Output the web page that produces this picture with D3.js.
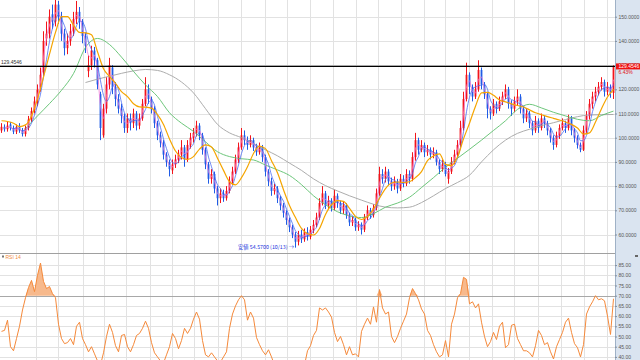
<!DOCTYPE html>
<html>
<head>
<meta charset="utf-8">
<script src="https://cdn.jsdelivr.net/npm/d3@7"></script>
<style>
  body { margin: 0; background: #fff; }
  svg { display: block; }
  text { font-family: "Liberation Sans", Arial, sans-serif; }
</style>
</head>
<body>
<div id="chart"></div>
<script>
// ---- data (one bar = approx. 3 trading days) ----
const opens = [
  103,104.5,103.5,105.5,104,102.5,104.5,103,101.5,104,
  107.5,111.5,114.5,121,127,141,143,151,148,155,
  150,143,137,140,144,149,152,148,142,127.5,
  130,136,132,118,101,112,122,129,121,116,
  112,109,104,108,106,110,105,108,114,120,
  116,112,106,101,98,93,90,86.5,89,91,
  93,96,91,97,100,102,105,101,95,89,
  83,85,79,75,77,75,78,82,86,91,
  96,101,99,97,99,96,94,96,92,86,
  82,78,79,75,72,69,66,63,60,57,
  60,58,61,59,62,64,67,73,77,72,
  74,71,76,73,70,72,68,65,66,63,
  64,62,67,70,68,71,77,85,83,86,
  82,80,82,79,83,81,85,83,92,99,
  95,97,94,95,93,94,90,87,89,83,
  86,90,93,97,104,116,126,121,117,120,
  128,122,118,112,110,114,112,115,117,120,
  114,112,115,117,112,108,110,106,103,107,
  104,108,106,103,100,97,101,104,106,104,
  108,103,100,97,95,103,109,114,117,119,
  121,123,119,121,118.5
];
const closes = [
  104.5,103.5,105,104,102.5,104.5,103,101.5,104,107.5,
  111,115,120,126,140,143,150,148,155,150,
  143,137,140,144,149,152,148,142,138,130,
  136,132,122,104,112,122,130,121,116,112,
  109,104,108,106,110,105,108,114,120,116,
  112,106,101,98,93,90,87,89,91,93,
  96,91,97,100,102,105,101,95,89,83,
  85,79,75,77,75,78,82,86,91,96,
  101,99,97,99,96,94,96,92,86,82,
  78,79,75,72,69,66,63,60,57,60,
  58,61,59,62,64,67,73,77,72,74,
  71,76,73,70,72,68,65,66,63,64,
  62,67,70,68,71,77,85,83,86,82,
  80,82,79,83,81,85,83,92,99,95,
  97,94,95,93,94,90,87,89,85,86,
  90,93,97,104,116,126,121,117,120,128,
  122,118,112,110,114,112,115,117,120,114,
  112,115,117,112,108,110,106,103,107,104,
  108,106,103,100,97,101,104,106,104,108,
  103,100,97,95,103,109,114,117,119,121,
  123,119,121,118.5,129.4546
];
const highs = [
  106,105.5,106.5,106.5,105,105.5,106,104,105,109,
  112.5,117,122,129,144,148,153,155,157,156.5,
  152,145,143,147,152,156.5,154,149,143.5,134,
  138,137.5,133,119,114,125,133,130,123,118,
  114,110,110,110,112,111,110,116,125,122,
  117,113,107,102.5,99,94,91,91,93,95,
  99,97,99,102,104,107,106,102,96,90,
  87,86,80,79,78.5,80,84,88,93,98,
  104,103,100.5,101,100,97.5,98,97,93,87,
  83.5,81,80,76,73,70,67,64,61,61.5,
  62,62.5,63,63.5,66,69,75,80,78,76,
  75,78.5,77,74,73.5,73,69,67.5,67,65.5,
  65,68.5,72,71,72.5,79,88,87,88,87,
  83.5,84,83,85,84.5,87,86.5,94,102,100,
  99,98,97,96,96,95,91,91,90,87.5,
  92,95,99,107,119,131,127,122,123,132,
  129,123,119,113,116,115,117,119,122,121,
  115.5,117,120,118,113,112,111,107,109,108,
  110,109,107,104,101,102.5,105.5,108,107,109.5,
  109,104,101,98,105,111,116,119,121,123,
  125,124,123,122,129.9
];
const lows = [
  102,102.5,102.5,103,101.5,101.5,102,100.5,100.5,103,
  106.5,110,113,119,125,138,141,145,146,147,
  140,134,134.5,138,142,147,145,139,135,125,
  128,129,120,99,100,110,120,118,113,110,
  106,102,102,103,104,103,103.5,107,113,114,
  110,104,99,96,91,88,84,85,87.5,89.5,
  91,88,90,95.5,98,100.5,99,93,87,81,
  81,77,72,73,73.5,74,77,80.5,85,89.5,
  95,97,95,96,94.5,92.5,93,90,84,80,
  76,76.5,73,70,67,64,61,58.5,54.57,55.5,
  56.5,57,57.5,58,60.5,63,66,72,70.5,70.5,
  69.5,70,71,68.5,68.5,66.5,63.5,63.5,61.5,61.5,
  60,61,66,66.5,67,70,76,81,81.5,80.5,
  78,78.5,77,78,79.5,80,81,82,90.5,93,
  94,92,92.5,91,91.5,88.5,85,86,84,81,
  85,89,92,96,103,115,118,115,116,119,
  120,116,108,107.5,109,110,111,113.5,116,112,
  109,110.5,113.5,110,106,106.5,104,101,102,102,
  103,104,101,98,95,96,99.5,103,102,103,
  101,98,95.5,94,94.5,102,107.5,112,115,117.5,
  119.5,117,117.5,116.5,116
];
const rsi14 = [
  52.5,53,58,45,43,49,55,63,69,74,
  77.5,72,80,86,77,73.5,74.5,71,69,56,
  49,46.5,47,49,46,55,57,49,46,42.5,
  45,41.5,38,36,42,50,56,52,45.5,42.5,
  50.5,51,45,42.5,46,50.5,51.5,54,57.5,54,
  47,42,40,38,37,41,45,51.5,49,44,
  48,54,51.5,54,58.5,62,58.5,48,41,40,
  42,40,38,37.5,40,42.5,54,61,65,68,
  70,68,58,62,59,49.5,46,43,41,43.5,
  40,36,34,31,28,26,25,22,27,29,
  32,36,43,45.5,50.5,53,64,63,64,62,
  59.5,52,47.5,50,46,41,45,41,41.5,40,
  52.5,56,59,56,64.5,57,73,64,61,62,
  50,47,50,54,57.5,61,69,73.5,71,68,
  63.5,61,53,50.5,46,42.5,40,41,48,40,
  56,61,69,71,79,78,66,67,64,66,
  57,50,45,47.5,52,48.5,55,57,44.5,46,
  55.5,56,49,46,43,43,42,40,45.5,53,
  50.5,46,47,42.5,39,45,48.5,52,57,59,
  52,46.5,44.5,40,46,61,64.5,67,70,68,
  68.5,67.5,60,51,68.5
];
// moving averages (every 2nd / 4th bar)
const orangeStart = 0, orangeStep = 2;
const orangeMA = [
  107,106.7,106,104.6,105.3,109,116,125,134.5,143.5,
  150,150,146.5,143.5,143.3,142.5,135.5,128.5,125.3,122.5,
  119,117,114,112.7,112.6,112.2,109.5,105.5,99.5,94.5,
  91.8,91,92.2,95.3,97,96.2,91.5,86.5,81.8,80.5,
  83.5,88,93.5,96.5,95.5,90.5,85.5,78.5,72,67,
  62.5,60.3,59.8,62.5,68.3,72.3,74,73.7,70.8,67.5,
  66.2,67.5,70.5,75,79,81.3,81.7,81.5,81.8,83.5,
  86,90.5,92.5,93.3,89,88.5,92,99.5,106,113,
  118.5,118.7,117.5,115.6,114.8,114,113.3,112.7,111.5,110.3,
  109.5,108.7,108,107.3,106.5,105.5,104,101.5,102,106.5,
  112,116.8,120
];
const greenStart = 8, greenStep = 4;
const greenMA = [
  103.8,109,114.1,119.6,126.5,137.3,141,138.5,133.3,127.4,
  121.8,117,110.3,106,102.6,98.3,94.2,92.2,91.3,90.8,
  88.7,86.7,84.4,80.6,76,72.3,69.4,67.7,67,68.6,
  71.3,73,75.4,79.4,83.5,87.8,91.5,95.2,99,103,
  107,111.7,113.8,112.3,110.5,109,107.6,107,109.2,111
];
const grayStart = 28, grayStep = 4;
const grayMA = [
  122.8,124.2,125.4,126.6,127.6,128.2,127.8,126,123,118.5,
  112,105.5,102,100,97.5,95,92.5,89.5,86.5,83,
  80.2,78,76,74.2,72.5,71.3,71,71.3,73.2,76,
  79,81.5,84.5,90,95,99,101.8,103.5,105,106.2,
  107.5,108.7,109.4,109.5,109.6
];
// month boundaries, in bar units
const monthBars = [11.9,19.4,27.6,34.8,42,50,57.2,64.8,72.8,80.2,88.3,95.8,103.3,
  111.1,118.7,126.1,133.7,141.4,148.3,156.4,163.9,171.4,179.4,186.9,194.8,202.4];
const priceTicks = [60,70,80,90,100,110,120,130,140,150];
const rsiTicks = [40,45,50,55,60,65,70,75,80,85];
const prevClose = 121.63;
const lowDate = "10/13";

// ---- layout ----
const W = 640, H = 360;
const plotR = 615, mainB = 253;
const svg = d3.select('#chart').append('svg').attr('width', W).attr('height', H);
svg.append('rect').attr('width', W).attr('height', H).attr('fill', '#fff');

const x = d3.scaleLinear().domain([0, closes.length]).range([0, plotR]);
const y = d3.scaleLinear().domain([52.36, 156.9]).range([mainB, 0]);
const yR = d3.scaleLinear().domain([38.48, 90.93]).range([H, mainB]);
const cx = i => x(i + 0.5);

const defs = svg.append('defs');
defs.append('clipPath').attr('id', 'clipMain')
  .append('rect').attr('x', 0).attr('y', 0).attr('width', plotR).attr('height', mainB);
defs.append('clipPath').attr('id', 'clipRsi')
  .append('rect').attr('x', 0).attr('y', mainB).attr('width', plotR).attr('height', H - mainB);

// grid
const grid = svg.append('g').attr('shape-rendering', 'crispEdges');
grid.selectAll('.vg').data(monthBars).join('line')
  .attr('x1', d => Math.round(x(d)) + 0.5).attr('x2', d => Math.round(x(d)) + 0.5)
  .attr('y1', 0).attr('y2', H)
  .attr('stroke', '#e2e2e2').attr('stroke-width', 1.5);
grid.selectAll('.hg').data(priceTicks).join('line')
  .attr('x1', 0).attr('x2', plotR)
  .attr('y1', d => Math.round(y(d)) + 0.5).attr('y2', d => Math.round(y(d)) + 0.5)
  .attr('stroke', '#e2e2e2').attr('stroke-width', 1.5);
grid.selectAll('.hr').data(rsiTicks).join('line')
  .attr('x1', 0).attr('x2', plotR)
  .attr('y1', d => Math.round(yR(d)) + 0.5).attr('y2', d => Math.round(yR(d)) + 0.5)
  .attr('stroke', d => d === 70 ? '#a8a8a8' : '#e2e2e2')
  .attr('stroke-width', d => d === 70 ? 1.6 : 1.5);

// panel separator
svg.append('line').attr('x1', 0).attr('x2', W).attr('y1', mainB + 0.5).attr('y2', mainB + 0.5)
  .attr('stroke', '#a0a0a0').attr('stroke-width', 1.2);

// ---- candles ----
const main = svg.append('g').attr('clip-path', 'url(#clipMain)');
const bars = closes.map((c, i) => ({i, o: opens[i], h: highs[i], l: lows[i], c}));
const col = d => d.c >= d.o ? '#f2141a' : '#1f5ce6';
main.selectAll('.wick').data(bars).join('line')
  .attr('x1', d => cx(d.i)).attr('x2', d => cx(d.i))
  .attr('y1', d => y(d.h)).attr('y2', d => y(d.l))
  .attr('stroke', col).attr('stroke-width', 1);
main.selectAll('.body').data(bars).join('rect')
  .attr('x', d => cx(d.i) - 0.9).attr('width', 1.8)
  .attr('y', d => y(Math.max(d.o, d.c)))
  .attr('height', d => Math.max(1, Math.abs(y(d.o) - y(d.c))))
  .attr('fill', col);

// ---- moving averages ----
const sma = n => closes.map((c, i) => i < n - 1 ? null : d3.mean(closes.slice(i - n + 1, i + 1)));
const pts = (arr, start, step) => arr.map((v, k) => ({i: start + k * step, v}));
const ln = d3.line().defined(d => d.v != null).x(d => cx(d.i)).y(d => y(d.v)).curve(d3.curveMonotoneX);

const maLines = [
  {data: pts(grayMA, grayStart, grayStep), color: '#a3a3a3', w: 0.9},
  {data: pts(greenMA, greenStart, greenStep), color: '#5cbf6c', w: 0.9},
  {data: sma(4).map((v, i) => ({i, v})), color: '#4a6cf2', w: 0.8},
  {data: sma(2).map((v, i) => ({i, v})), color: '#f07ad6', w: 0.8},
  {data: pts(orangeMA, orangeStart, orangeStep), color: '#f5a500', w: 1.2}
];
main.selectAll('.ma').data(maLines).join('path')
  .attr('d', d => ln(d.data))
  .attr('fill', 'none').attr('stroke', d => d.color).attr('stroke-width', d => d.w);

// current price line
const last = closes[closes.length - 1];
svg.append('line').attr('x1', 0).attr('x2', plotR).attr('y1', y(last)).attr('y2', y(last))
  .attr('stroke', '#000').attr('stroke-width', 1.2);
svg.append('text').attr('x', 1).attr('y', y(last) - 2.5)
  .attr('font-size', 5).attr('fill', '#333').text(d3.format('.4f')(last));

// low annotation
const lowVal = d3.min(lows);
const lowIdx = lows.indexOf(lowVal);
svg.append('text').attr('x', cx(lowIdx) - 1.5).attr('y', y(lowVal) + 1.8)
  .attr('text-anchor', 'end').attr('font-size', 5.3).attr('fill', '#2233dd')
  .style('font-family', '"Noto Sans CJK JP", "Liberation Sans", sans-serif')
  .text(`安値 ${d3.format('.4f')(lowVal)} (${lowDate}) →`);

// ---- RSI panel ----
const rsiG = svg.append('g').attr('clip-path', 'url(#clipRsi)');
const rsiPts = rsi14.map((v, i) => ({i, v}));
rsiG.append('path').datum(rsiPts)
  .attr('d', d3.area().x(d => cx(d.i)).y0(yR(70)).y1(d => yR(Math.max(d.v, 70))))
  .attr('fill', '#f7b98c');
rsiG.append('path').datum(rsiPts)
  .attr('d', d3.line().x(d => cx(d.i)).y(d => yR(d.v)))
  .attr('fill', 'none').attr('stroke', '#f5893a').attr('stroke-width', 1);

svg.append('rect').attr('x', 2).attr('y', 255.5).attr('width', 2).attr('height', 2).attr('fill', '#777');
svg.append('text').attr('x', 5.5).attr('y', 258.5).attr('font-size', 5).attr('fill', '#f08a3c').text('RSI 14');

// ---- right axis band ----
svg.append('rect').attr('x', plotR).attr('y', 0).attr('width', W - plotR).attr('height', H)
  .attr('fill', '#dae4f0');
svg.append('line').attr('x1', plotR + 0.5).attr('x2', plotR + 0.5).attr('y1', 0).attr('y2', H)
  .attr('stroke', '#9fb1c6');

const axP = svg.append('g').attr('transform', `translate(${plotR},0)`)
  .call(d3.axisRight(y).tickValues(priceTicks).tickSize(2).tickPadding(1.5).tickFormat(d3.format('.4f')));
const axR = svg.append('g').attr('transform', `translate(${plotR},0)`)
  .call(d3.axisRight(yR).tickValues(rsiTicks).tickSize(2).tickPadding(1.5).tickFormat(d3.format('.2f')));
[axP, axR].forEach(a => {
  a.select('.domain').remove();
  a.selectAll('.tick line').attr('stroke', '#7f8ea0');
  a.selectAll('.tick text').attr('font-size', 5).attr('fill', '#555')
    .attr('font-family', '"Liberation Sans", Arial, sans-serif');
});
svg.append('rect').attr('x', 635).attr('y', 255).attr('width', 3).attr('height', 2).attr('fill', '#666');

// last price tag
svg.append('rect').attr('x', plotR + 1).attr('y', y(last) - 3).attr('width', W - plotR - 1).attr('height', 6)
  .attr('fill', '#ee1111');
svg.append('text').attr('x', plotR + 3.5).attr('y', y(last) + 1.8)
  .attr('font-size', 5).attr('fill', '#fff').text(d3.format('.4f')(last));
svg.append('text').attr('x', plotR + 3.5).attr('y', y(last) + 8)
  .attr('font-size', 5).attr('fill', '#e01010')
  .text(d3.format('.2f')((last / prevClose - 1) * 100) + '%');
</script>
</body>
</html>
